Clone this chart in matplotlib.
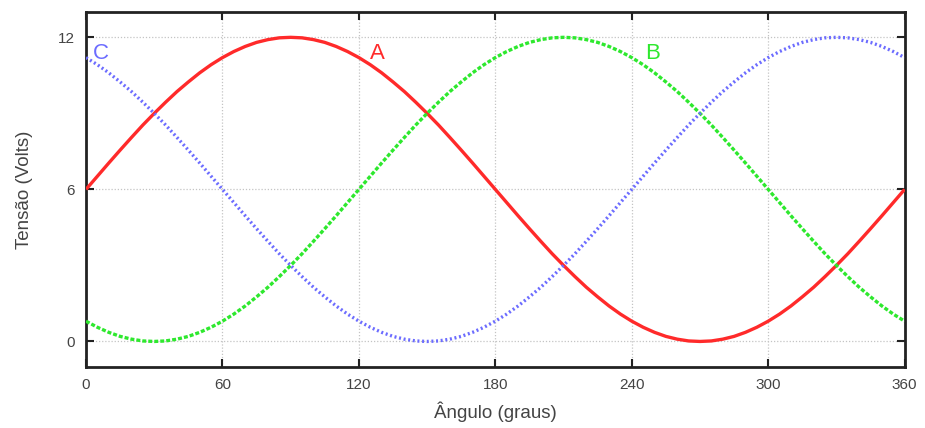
import matplotlib
matplotlib.use("Agg")
import matplotlib.pyplot as plt

angles = list(range(0, 361, 5))
tensao_a = [6.00, 6.52, 7.04, 7.55, 8.05, 8.54, 9.00, 9.44, 9.86, 10.24, 10.60, 10.92,
            11.20, 11.44, 11.64, 11.80, 11.91, 11.98, 12.00,
            11.98, 11.91, 11.80, 11.64, 11.44, 11.20, 10.92, 10.60, 10.24, 9.86, 9.44,
            9.00, 8.54, 8.05, 7.55, 7.04, 6.52, 6.00,
            5.48, 4.96, 4.45, 3.95, 3.46, 3.00, 2.56, 2.14, 1.76, 1.40, 1.08,
            0.80, 0.56, 0.36, 0.20, 0.09, 0.02, 0.00,
            0.02, 0.09, 0.20, 0.36, 0.56, 0.80, 1.08, 1.40, 1.76, 2.14, 2.56,
            3.00, 3.46, 3.95, 4.45, 4.96, 5.48, 6.00]
tensao_b = [0.80, 0.56, 0.36, 0.20, 0.09, 0.02, 0.00, 0.02, 0.09, 0.20, 0.36, 0.56,
            0.80, 1.08, 1.40, 1.76, 2.14, 2.56, 3.00, 3.46, 3.95, 4.45, 4.96, 5.48,
            6.00, 6.52, 7.04, 7.55, 8.05, 8.54, 9.00, 9.44, 9.86, 10.24, 10.60, 10.92,
            11.20, 11.44, 11.64, 11.80, 11.91, 11.98, 12.00,
            11.98, 11.91, 11.80, 11.64, 11.44, 11.20, 10.92, 10.60, 10.24, 9.86, 9.44,
            9.00, 8.54, 8.05, 7.55, 7.04, 6.52, 6.00,
            5.48, 4.96, 4.45, 3.95, 3.46, 3.00, 2.56, 2.14, 1.76, 1.40, 1.08, 0.80]
tensao_c = [11.20, 10.92, 10.60, 10.24, 9.86, 9.44, 9.00, 8.54, 8.05, 7.55, 7.04, 6.52,
            6.00, 5.48, 4.96, 4.45, 3.95, 3.46, 3.00, 2.56, 2.14, 1.76, 1.40, 1.08,
            0.80, 0.56, 0.36, 0.20, 0.09, 0.02, 0.00,
            0.02, 0.09, 0.20, 0.36, 0.56, 0.80, 1.08, 1.40, 1.76, 2.14, 2.56,
            3.00, 3.46, 3.95, 4.45, 4.96, 5.48, 6.00,
            6.52, 7.04, 7.55, 8.05, 8.54, 9.00, 9.44, 9.86, 10.24, 10.60, 10.92,
            11.20, 11.44, 11.64, 11.80, 11.91, 11.98, 12.00,
            11.98, 11.91, 11.80, 11.64, 11.44, 11.20]
x_ticks = [0, 60, 120, 180, 240, 300, 360]
y_ticks = [0, 6, 12]
labels = ["A", "B", "C"]
label_pos = [(125, 11.35), (246, 11.35), (3, 11.35)]

plt.rcParams['font.family'] = ['Liberation Sans', 'DejaVu Sans']

fig = plt.figure(figsize=(9.25, 4.28), dpi=100)
ax = fig.add_axes([0.093, 0.143, 0.885, 0.829])

red = '#ff2a2a'
green = '#2ee82e'
blue = '#6c6cff'

ax.plot(angles, tensao_a, color=red, lw=2.4, solid_capstyle='butt', zorder=3)
ax.plot(angles, tensao_b, color=green, lw=2.4, linestyle=(0, (1.2, 0.6)), zorder=3)
ax.plot(angles, tensao_c, color=blue, lw=2.4, linestyle=(0, (0.6, 0.8)), zorder=3)

for lab, (px, py), col in zip(labels, label_pos, [red, green, blue]):
    ax.text(px, py, lab, color=col, fontsize=16, ha='left', va='center', zorder=4)

ax.set_xlim(0, 360)
ax.set_ylim(-1, 13)
ax.set_xticks(x_ticks)
ax.set_yticks(y_ticks)
ax.grid(True, color='#c4c4c4', linestyle=(0, (1, 1.5)), linewidth=0.9)
ax.tick_params(direction='in', length=6, width=1.5, top=True, right=True,
               labelsize=11, colors='#222222', pad=8)
ax.tick_params(axis='both', labelcolor='#444444')
for s in ax.spines.values():
    s.set_linewidth(2)
    s.set_color('#222222')

ax.set_xlabel('Ângulo (graus)', fontsize=13.5, color='#444444', labelpad=7)
ax.set_ylabel('Tensão (Volts)', fontsize=13.5, color='#444444', labelpad=18)

fig.savefig('out.png', dpi=100)
